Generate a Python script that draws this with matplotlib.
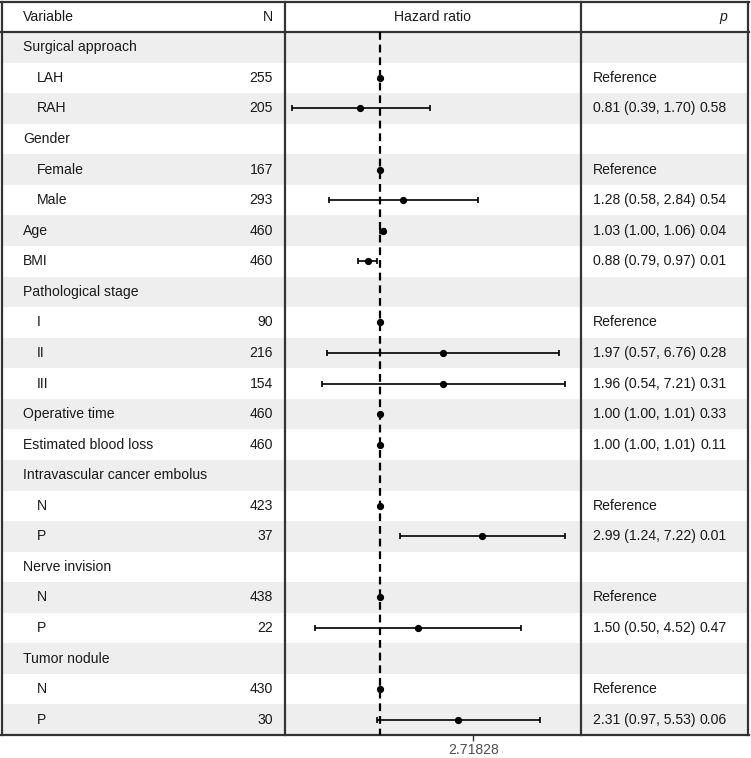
import numpy as np
import matplotlib
matplotlib.use("Agg")
import matplotlib.pyplot as plt

plt.rcParams['font.family'] = ['Liberation Sans', 'DejaVu Sans']

labels = ["Surgical approach", "LAH", "RAH", "Gender", "Female", "Male", "Age", "BMI",
          "Pathological stage", "I", "II", "III", "Operative time", "Estimated blood loss",
          "Intravascular cancer embolus", "N", "P", "Nerve invision", "N", "P",
          "Tumor nodule", "N", "P"]
indent = [0, 1, 1, 0, 1, 1, 0, 0, 0, 1, 1, 1, 0, 0, 0, 1, 1, 0, 1, 1, 0, 1, 1]
n_obs = ["", "255", "205", "", "167", "293", "460", "460", "", "90", "216", "154", "460", "460",
         "", "423", "37", "", "438", "22", "", "430", "30"]
nan = np.nan
hr = [nan, 1, 0.81, nan, 1, 1.28, 1.03, 0.88, nan, 1, 1.97, 1.96, 1.00, 1.00,
      nan, 1, 2.99, nan, 1, 1.50, nan, 1, 2.31]
ci_lo = [nan, nan, 0.39, nan, nan, 0.58, 1.00, 0.79, nan, nan, 0.57, 0.54, 1.00, 1.00,
         nan, nan, 1.24, nan, nan, 0.50, nan, nan, 0.97]
ci_hi = [nan, nan, 1.70, nan, nan, 2.84, 1.06, 0.97, nan, nan, 6.76, 7.21, 1.01, 1.01,
         nan, nan, 7.22, nan, nan, 4.52, nan, nan, 5.53]
est_text = ["", "Reference", "0.81 (0.39, 1.70)", "", "Reference", "1.28 (0.58, 2.84)",
            "1.03 (1.00, 1.06)", "0.88 (0.79, 0.97)", "", "Reference", "1.97 (0.57, 6.76)",
            "1.96 (0.54, 7.21)", "1.00 (1.00, 1.01)", "1.00 (1.00, 1.01)", "", "Reference",
            "2.99 (1.24, 7.22)", "", "Reference", "1.50 (0.50, 4.52)", "", "Reference",
            "2.31 (0.97, 5.53)"]
p_text = ["", "", "0.58", "", "", "0.54", "0.04", "0.01", "", "", "0.28", "0.31", "0.33", "0.11",
          "", "", "0.01", "", "", "0.47", "", "", "0.06"]

W, H = 751, 758
fig = plt.figure(figsize=(W / 100, H / 100), dpi=100)

def fx(px):
    return px / W

def fy(py):
    return 1 - py / H

top_px, bot_px = 1.5, 735.0
nrows = len(labels)
ylim = (nrows - 0.5, -1.5)

# background axes
bg = fig.add_axes([fx(1), fy(bot_px), fx(749) - fx(1), fy(top_px) - fy(bot_px)])
bg.set_xlim(1, 749)
bg.set_ylim(*ylim)
bg.axis('off')
for i in range(nrows):
    if i % 2 == 0:
        bg.axhspan(i - 0.5, i + 0.5, color='#eeeeee', lw=0, zorder=0)

fs = 10.1
tc = '#1a1a1a'
bg.text(23, -1, "Variable", fontsize=fs, color=tc, va='center', ha='left')
bg.text(273, -1, "N", fontsize=fs, color=tc, va='center', ha='right')
bg.text(433, -1, "Hazard ratio", fontsize=fs, color=tc, va='center', ha='center')
bg.text(727, -1, "p", fontsize=fs, color=tc, va='center', ha='right', style='italic')
for i in range(nrows):
    bg.text(23 + 14 * indent[i], i, labels[i], fontsize=fs, color=tc, va='center', ha='left')
    bg.text(273, i, n_obs[i], fontsize=fs, color=tc, va='center', ha='right')
    bg.text(593, i, est_text[i], fontsize=fs, color=tc, va='center', ha='left')
    bg.text(727, i, p_text[i], fontsize=fs, color=tc, va='center', ha='right')

lc = '#333333'
# frame lines
for x in (1.5, 285, 581, 748.5):
    bg.plot([x, x], [ylim[0], ylim[1]], color=lc, lw=1.6, clip_on=False, zorder=5)
bg.plot([1, 749], [-0.5, -0.5], color=lc, lw=1.6, clip_on=False, zorder=5)
bg.plot([1, 749], [ylim[1], ylim[1]], color=lc, lw=1.6, clip_on=False, zorder=5)
bg.plot([1, 749], [ylim[0], ylim[0]], color=lc, lw=1.6, clip_on=False, zorder=5)

# forest axes
ax = fig.add_axes([fx(285), fy(bot_px), fx(581) - fx(285), fy(top_px) - fy(bot_px)])
ax.patch.set_alpha(0)
ax.set_xscale('log')
ax.set_xlim(np.exp(-1.016), np.exp(2.15))
ax.set_ylim(*ylim)
for s in ax.spines.values():
    s.set_visible(False)
ax.set_yticks([])
ax.set_xticks([np.e])
ax.set_xticklabels(["2.71828"])
ax.xaxis.set_minor_locator(matplotlib.ticker.NullLocator())
ax.tick_params(axis='x', length=4, width=1, color=lc, labelcolor='#4d4d4d', labelsize=fs, pad=2)

ax.plot([1, 1], [-0.5, ylim[0]], color='black', lw=1.6, ls=(0, (3.5, 2.2)), zorder=2)

hr_a = np.array(hr, dtype=float)
lo_a = np.array(ci_lo, dtype=float)
hi_a = np.array(ci_hi, dtype=float)
ys = np.arange(nrows)
m = ~np.isnan(lo_a)
ax.errorbar(hr_a[m], ys[m], xerr=[hr_a[m] - lo_a[m], hi_a[m] - hr_a[m]], fmt='none',
            ecolor='black', elinewidth=1.2, capsize=2.5, capthick=1.2, zorder=3)
ax.plot(hr_a, ys, 'o', color='black', ms=4.2, zorder=4)

fig.savefig("out.png", dpi=100)
